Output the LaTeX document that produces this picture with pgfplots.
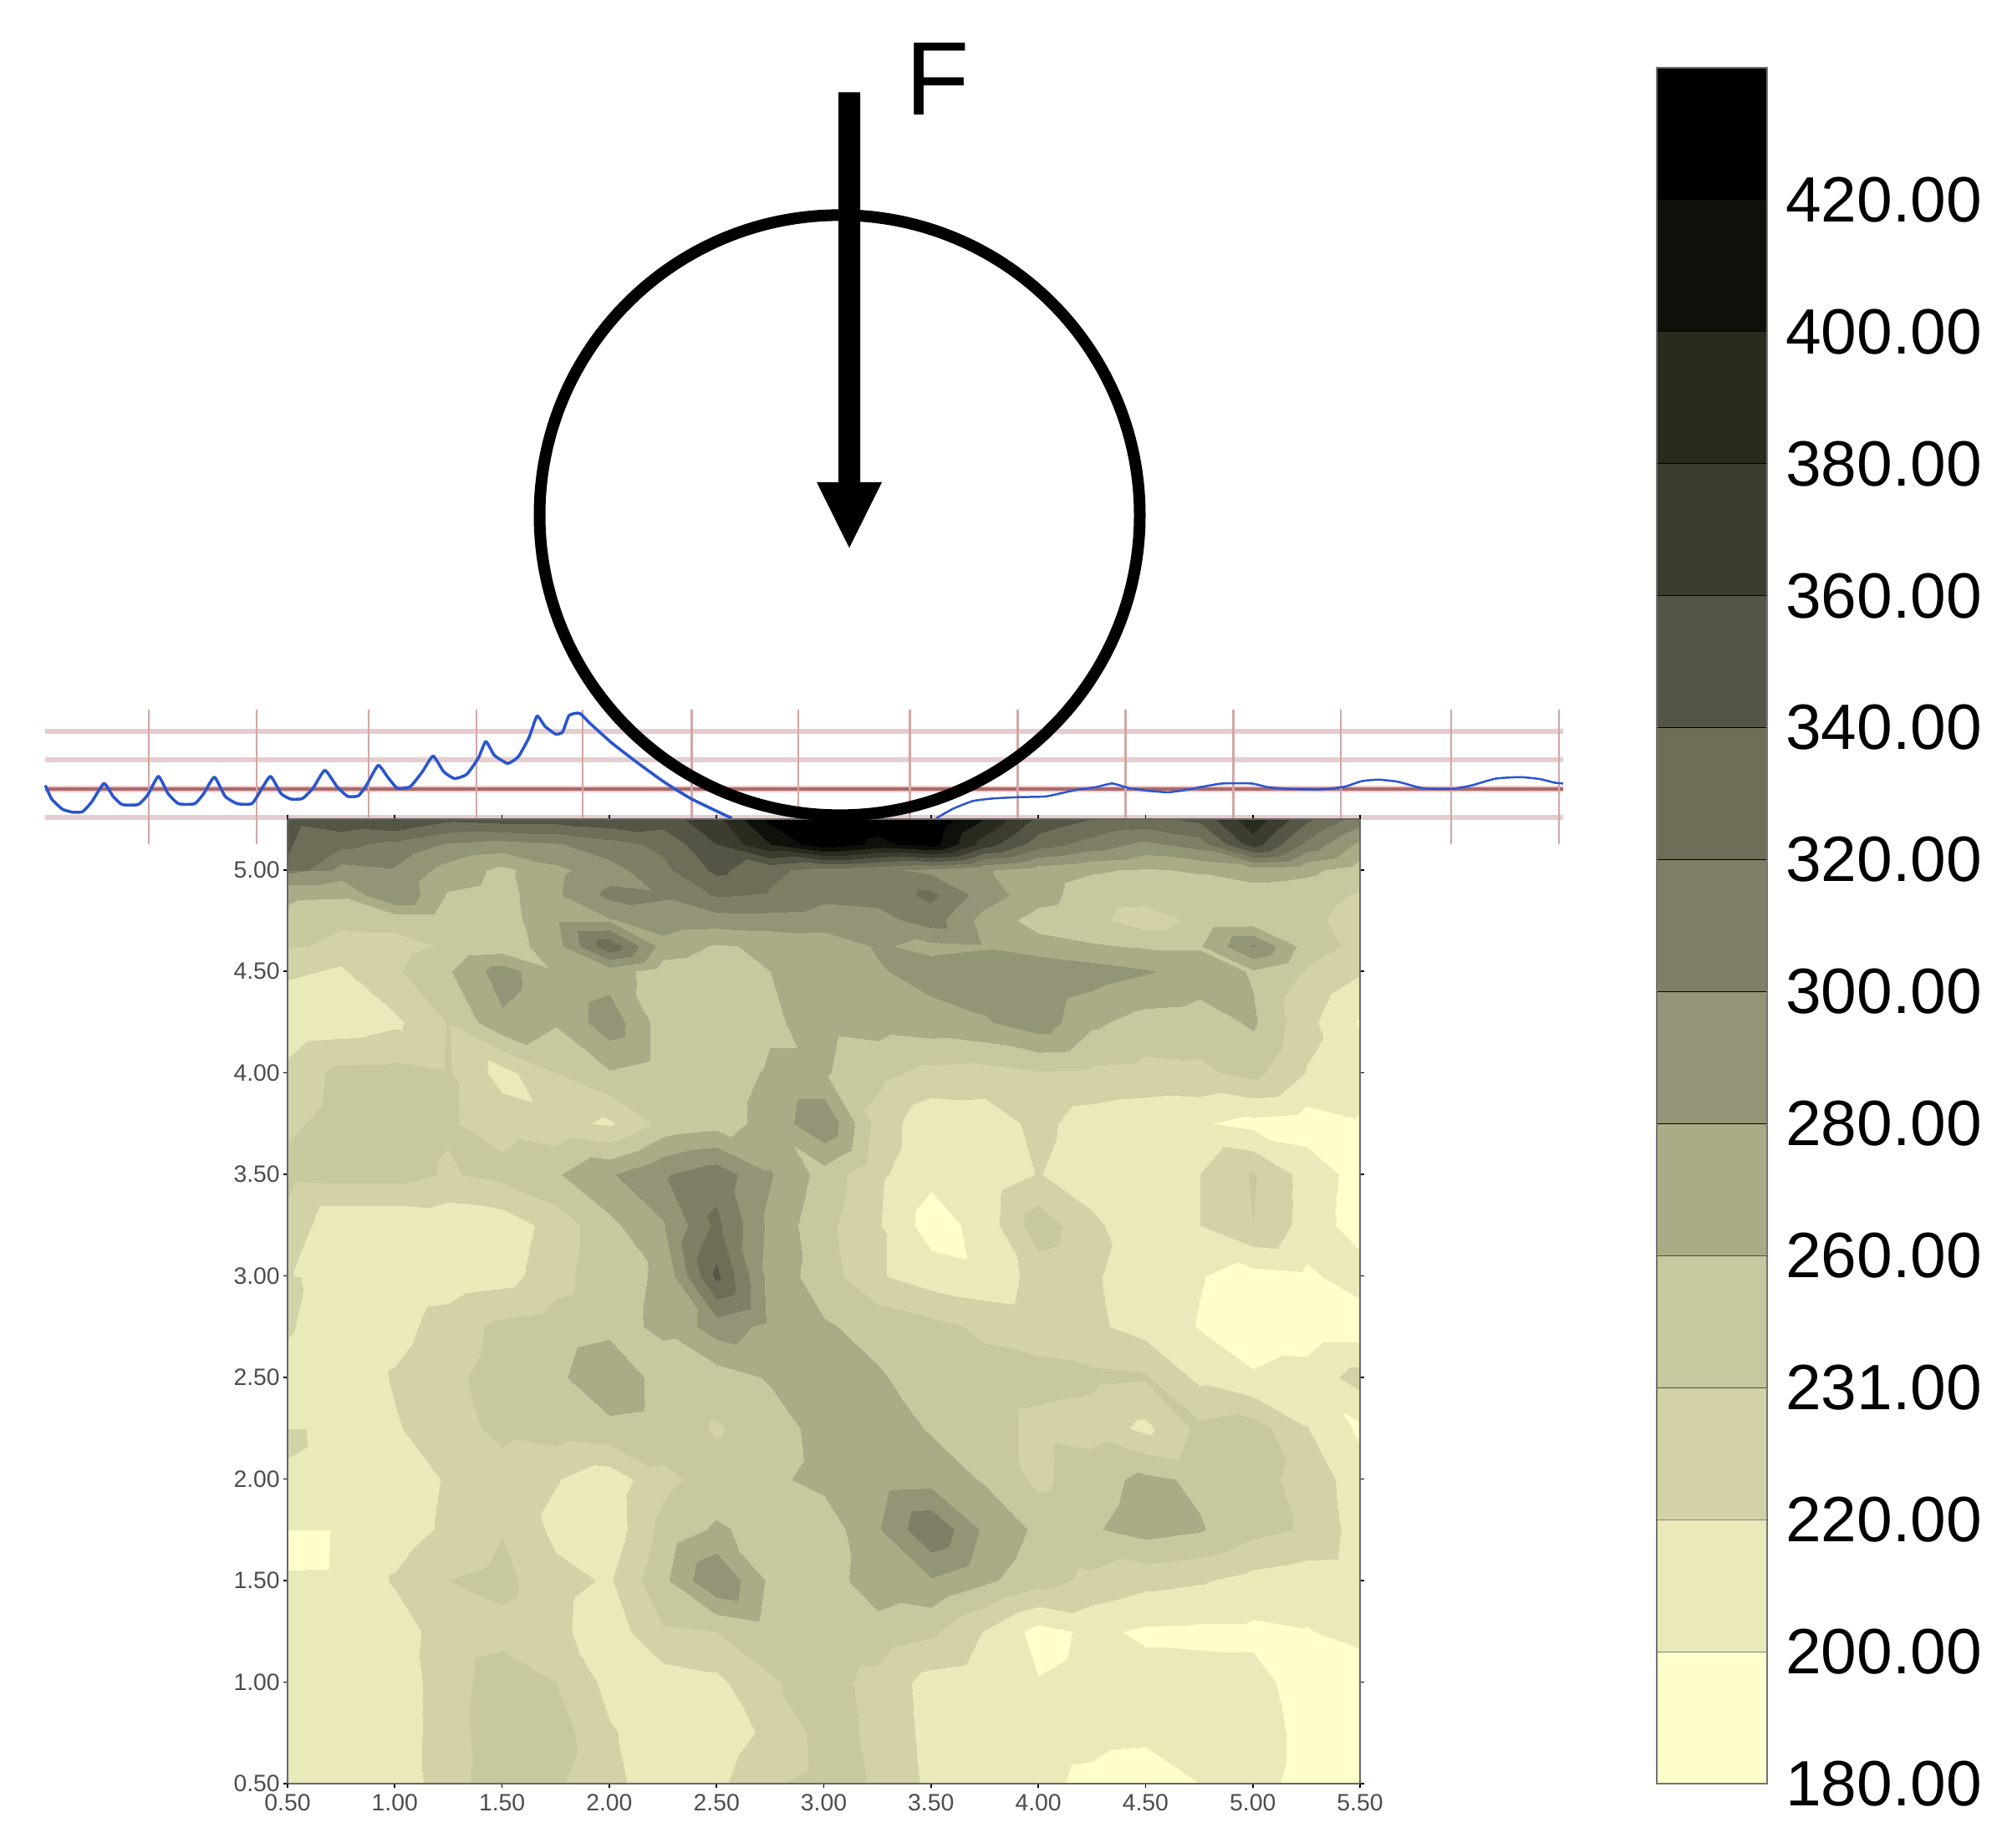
\documentclass[border=0pt]{standalone}
\usepackage{fontspec}
\setmainfont{Liberation Sans}
\usepackage{pgfplots}
\pgfplotsset{compat=1.18}
\definecolor{lineblue}{HTML}{2A55D0}
\definecolor{redlight}{HTML}{E6CDCD}
\definecolor{redvert}{HTML}{D2A6A6}
\definecolor{reddark}{HTML}{A86A6A}
\definecolor{redhalo}{HTML}{F3CFCF}
\pgfplotsset{pixelaxis/.style={at={(0pt,0pt)},anchor=south west,scale only axis,width=718.5pt,height=663.3pt,
  xmin=0,xmax=2395,ymin=0,ymax=2211,y dir=reverse,hide axis,clip=false}}
\begin{document}
\begin{tikzpicture}
\useasboundingbox (0pt,0pt) rectangle (718.5pt,663.3pt);
% profile behind the map
\begin{axis}[pixelaxis]
\addplot[redlight,line width=1.6pt] coordinates {(54,875)(1870,875)};
\addplot[redlight,line width=1.6pt] coordinates {(54,909)(1870,909)};
\addplot[redlight,line width=1.6pt] coordinates {(54,978)(1870,978)};
\addplot[redhalo,line width=2.6pt] coordinates {(54,944)(1870,944)};
\addplot[reddark,line width=1.0pt] coordinates {(54,944)(1870,944)};
\foreach \x in {178,307,441,570,697,827.5,955,1088.5,1217.5,1346.5,1475.4,1604,1736,1865}{
  \edef\tmp{\noexpand\addplot[redvert,line width=.8pt] coordinates {(\x,849)(\x,1010)};}\tmp
}
\addplot[lineblue,line width=1.05pt,line join=round,smooth,tension=.3] coordinates {
(54.2,939.7)(61.9,956)(74.7,968.2)(87.4,971.8)(98.9,971.1)(109.8,959.3)(124.4,937.4)(135.3,952.8)(146.1,962.6)(165.3,962.6)
(176.7,951.1)(189.5,928.8)(201,949.5)(213.7,961.6)(232.9,961.6)(243.7,949.5)(256.5,929.8)(269.3,952.8)(283.9,961.6)(301.2,961.6)
(310.7,947.9)(323.5,928.8)(336.2,949.5)(347.7,956)(361.8,955.4)(374.5,943)(388.6,921.6)(403.2,941.3)(416,952.8)(428.8,952.1)
(438.3,939.7)(452.4,915.7)(463.8,929.8)(475.3,943)(490.6,941.3)(505.3,923.3)(518.1,904.6)(530.8,923.3)(543.6,931.5)(558.3,926.5)
(572.3,906.9)(581.2,887.2)(591.4,903.6)(607.4,913.4)(620.2,905.2)(632.9,882.3)(642.5,856.7)(652,869.1)(664.8,878.3)(673.1,875.7)
(680.8,856)(693.5,853.4)(706.3,865.9)(731.8,888.8)(763.7,913.4)(795.6,936.4)(827.5,956)(875.4,979)};
\addplot[lineblue,line width=.75pt,line join=round,smooth,tension=.3] coordinates {
(1120,979)(1140.4,967.5)(1163.8,958.4)(1187.2,955.4)(1216.4,953.8)(1251.5,952.8)(1286.6,945.2)(1310,942)(1330.5,937.4)(1351,943)
(1374.4,946.2)(1397.7,947.9)(1418.2,945.2)(1438.7,941.3)(1462.1,937.4)(1497.2,937.4)(1517.7,942)(1544,943.9)(1579,944.6)(1608.3,941.3)
(1628.7,934.7)(1649.2,932.8)(1672.6,935.4)(1701.9,943)(1737,943.9)(1760.4,939.7)(1789.6,931.5)(1818.9,929.8)(1842.3,932.1)(1859.8,936.4)(1870,937.4)};
\end{axis}
% contour map
\begin{axis}[at={(103.2pt,23.1pt)},anchor=south west,scale only axis,width=384.9pt,height=346.2pt,
  view={0}{90},xmin=0.5,xmax=5.5,ymin=0.5,ymax=5.25,
  xtick={0.5,1,...,5.5},ytick={0.5,1,...,5},ztick=\empty,
  tick align=outside,major tick length=1.6pt,tick style={black,line width=.5pt},
  axis line style={draw=black!60,line width=.6pt},
  tick label style={font=\fontsize{8.5}{10}\selectfont,text=black!70,inner sep=0pt},
  xticklabel style={yshift=-2pt},yticklabel style={xshift=-1pt},
  /pgf/number format/.cd,fixed,fixed zerofill,precision=2,assume math mode=true,
  /pgfplots/.cd,
  colormap={cm}{rgb255=(255,255,204) rgb255=(233,233,185) rgb255=(210,210,166) rgb255=(200,200,159)
    rgb255=(171,171,135) rgb255=(148,148,119) rgb255=(127,127,101) rgb255=(110,110,88)
    rgb255=(85,85,70) rgb255=(60,60,47) rgb255=(42,42,30) rgb255=(16,16,11) rgb255=(0,0,0)},
  colormap access=piecewise constant,point meta min=180,point meta max=440]
\addplot3[surf,shader=interp,mesh/cols=21,mesh/ordering=x varies]
 table[row sep=\\,header=false,z index=0,
   x expr={0.5+0.25*mod(\coordindex,21)},
   y expr={min(0.5+0.25*floor(\coordindex/21),4.5+0.125*(floor(\coordindex/21)-16))}] {
205\\ 205\\ 205\\ 233\\ 250\\ 243\\ 225\\ 210\\ 215\\ 238\\ 246\\ 238\\ 215\\ 208\\ 203\\ 197\\ 192\\ 200\\ 205\\ 195\\ 190\\
206\\ 206\\ 207\\ 232\\ 252\\ 250\\ 222\\ 210\\ 207\\ 225\\ 247\\ 236\\ 213\\ 207\\ 205\\ 204\\ 203\\ 204\\ 208\\ 195\\ 190\\
206\\ 206\\ 207\\ 232\\ 250\\ 240\\ 214\\ 209\\ 215\\ 238\\ 247\\ 234\\ 212\\ 207\\ 201\\ 206\\ 207\\ 207\\ 206\\ 192\\ 188\\
205\\ 206\\ 210\\ 230\\ 234\\ 225\\ 208\\ 238\\ 240\\ 250\\ 252\\ 252\\ 244\\ 219\\ 193\\ 204\\ 197\\ 196\\ 196\\ 199\\ 206\\
205\\ 206\\ 222\\ 240\\ 246\\ 226\\ 218\\ 255\\ 300\\ 256\\ 250\\ 272\\ 278\\ 264\\ 248\\ 235\\ 226\\ 222\\ 213\\ 208\\ 207\\
180\\ 205\\ 209\\ 224\\ 239\\ 215\\ 207\\ 246\\ 263\\ 252\\ 248\\ 278\\ 318\\ 276\\ 256\\ 258\\ 268\\ 262\\ 246\\ 238\\ 210\\
201\\ 206\\ 208\\ 222\\ 232\\ 221\\ 208\\ 235\\ 248\\ 256\\ 266\\ 270\\ 272\\ 258\\ 235\\ 252\\ 265\\ 256\\ 246\\ 234\\ 208\\
228\\ 205\\ 218\\ 232\\ 245\\ 250\\ 255\\ 252\\ 238\\ 250\\ 268\\ 272\\ 258\\ 248\\ 235\\ 232\\ 215\\ 245\\ 250\\ 221\\ 196\\
205\\ 205\\ 222\\ 236\\ 247\\ 256\\ 275\\ 252\\ 250\\ 262\\ 272\\ 262\\ 252\\ 248\\ 246\\ 244\\ 242\\ 215\\ 202\\ 208\\ 228\\
222\\ 208\\ 212\\ 230\\ 245\\ 250\\ 255\\ 263\\ 290\\ 275\\ 262\\ 254\\ 246\\ 236\\ 232\\ 224\\ 212\\ 199\\ 190\\ 188\\ 188\\
225\\ 205\\ 205\\ 208\\ 212\\ 232\\ 255\\ 262\\ 345\\ 272\\ 250\\ 222\\ 210\\ 205\\ 228\\ 222\\ 212\\ 201\\ 192\\ 196\\ 210\\
222\\ 203\\ 202\\ 205\\ 208\\ 228\\ 255\\ 278\\ 325\\ 275\\ 246\\ 222\\ 190\\ 208\\ 252\\ 225\\ 204\\ 220\\ 240\\ 212\\ 190\\
246\\ 248\\ 248\\ 238\\ 246\\ 258\\ 278\\ 298\\ 312\\ 282\\ 252\\ 224\\ 205\\ 206\\ 221\\ 208\\ 207\\ 220\\ 242\\ 212\\ 192\\
246\\ 248\\ 247\\ 242\\ 232\\ 226\\ 217\\ 246\\ 252\\ 266\\ 298\\ 232\\ 205\\ 208\\ 226\\ 210\\ 205\\ 202\\ 194\\ 190\\ 198\\
226\\ 246\\ 247\\ 242\\ 212\\ 240\\ 258\\ 250\\ 252\\ 262\\ 262\\ 246\\ 234\\ 232\\ 238\\ 236\\ 234\\ 236\\ 246\\ 219\\ 207\\
205\\ 208\\ 216\\ 241\\ 276\\ 262\\ 292\\ 250\\ 245\\ 258\\ 265\\ 268\\ 272\\ 278\\ 292\\ 264\\ 252\\ 250\\ 263\\ 226\\ 198\\
205\\ 218\\ 237\\ 258\\ 290\\ 262\\ 270\\ 250\\ 245\\ 260\\ 270\\ 278\\ 288\\ 292\\ 298\\ 290\\ 282\\ 272\\ 258\\ 238\\ 222\\
232\\ 228\\ 232\\ 243\\ 248\\ 272\\ 335\\ 272\\ 258\\ 263\\ 268\\ 282\\ 275\\ 278\\ 268\\ 262\\ 258\\ 258\\ 302\\ 250\\ 235\\
248\\ 247\\ 247\\ 246\\ 250\\ 277\\ 278\\ 292\\ 290\\ 292\\ 290\\ 292\\ 310\\ 272\\ 252\\ 246\\ 229\\ 246\\ 248\\ 245\\ 232\\
263\\ 262\\ 300\\ 258\\ 252\\ 277\\ 305\\ 302\\ 322\\ 318\\ 305\\ 308\\ 325\\ 290\\ 268\\ 250\\ 248\\ 250\\ 250\\ 248\\ 238\\
305\\ 292\\ 298\\ 272\\ 255\\ 275\\ 292\\ 315\\ 345\\ 325\\ 312\\ 305\\ 295\\ 282\\ 270\\ 262\\ 258\\ 262\\ 270\\ 265\\ 250\\
338\\ 325\\ 315\\ 298\\ 292\\ 298\\ 312\\ 325\\ 360\\ 400\\ 435\\ 415\\ 430\\ 370\\ 330\\ 312\\ 295\\ 310\\ 370\\ 315\\ 275\\
345\\ 355\\ 362\\ 345\\ 350\\ 350\\ 355\\ 350\\ 375\\ 425\\ 438\\ 430\\ 438\\ 400\\ 355\\ 340\\ 335\\ 345\\ 395\\ 345\\ 310\\
};
\end{axis}
% colour key
\begin{axis}[at={(594.6pt,23.1pt)},anchor=south west,scale only axis,width=39.6pt,height=615.9pt,
  xmin=0,xmax=1,ymin=180,ymax=440,xtick=\empty,
  ytick={180,200,...,420},
  yticklabels={180.00,200.00,220.00,231.00,260.00,280.00,300.00,320.00,340.00,360.00,380.00,400.00,420.00},
  ticklabel pos=right,major tick length=0pt,
  y tick label style={font=\fontsize{23}{26}\selectfont,anchor=west,xshift=6.5pt,inner sep=0pt},
  axis line style={draw=black!55,line width=.5pt},axis on top]
\addplot[fill={rgb,255:red,255;green,255;blue,204},draw=black!50,line width=.3pt] coordinates {(0,180)(1,180)(1,200)(0,200)} --cycle;
\addplot[fill={rgb,255:red,233;green,233;blue,185},draw=black!50,line width=.3pt] coordinates {(0,200)(1,200)(1,220)(0,220)} --cycle;
\addplot[fill={rgb,255:red,210;green,210;blue,166},draw=black!50,line width=.3pt] coordinates {(0,220)(1,220)(1,240)(0,240)} --cycle;
\addplot[fill={rgb,255:red,200;green,200;blue,159},draw=black!70,line width=.3pt] coordinates {(0,240)(1,240)(1,260)(0,260)} --cycle;
\addplot[fill={rgb,255:red,171;green,171;blue,135},draw=black!70,line width=.3pt] coordinates {(0,260)(1,260)(1,280)(0,280)} --cycle;
\addplot[fill={rgb,255:red,148;green,148;blue,119},draw=black,line width=.3pt] coordinates {(0,280)(1,280)(1,300)(0,300)} --cycle;
\addplot[fill={rgb,255:red,127;green,127;blue,101},draw=black,line width=.3pt] coordinates {(0,300)(1,300)(1,320)(0,320)} --cycle;
\addplot[fill={rgb,255:red,110;green,110;blue,88},draw=black,line width=.3pt] coordinates {(0,320)(1,320)(1,340)(0,340)} --cycle;
\addplot[fill={rgb,255:red,85;green,85;blue,70},draw=black,line width=.3pt] coordinates {(0,340)(1,340)(1,360)(0,360)} --cycle;
\addplot[fill={rgb,255:red,60;green,60;blue,47},draw=black,line width=.3pt] coordinates {(0,360)(1,360)(1,380)(0,380)} --cycle;
\addplot[fill={rgb,255:red,42;green,42;blue,30},draw=black,line width=.3pt] coordinates {(0,380)(1,380)(1,400)(0,400)} --cycle;
\addplot[fill={rgb,255:red,16;green,16;blue,11},draw=black,line width=.3pt] coordinates {(0,400)(1,400)(1,420)(0,420)} --cycle;
\addplot[fill=black,draw=black,line width=.3pt] coordinates {(0,420)(1,420)(1,440)(0,440)} --cycle;
\end{axis}
% circle, arrow, F
\begin{axis}[pixelaxis]
\draw[black,line width=4.2pt] (axis cs:1004.5,616.4) circle[radius=107.7pt];
\addplot[fill=black,draw=none] coordinates {(1003,110.5)(1029,110.5)(1029,577)(1055,577)(1016,655.5)(977,577)(1003,577)} --cycle;
\node[anchor=base west,inner sep=0pt,font=\fontsize{37.5}{40}\selectfont] at (axis cs:1083,138) {F};
\end{axis}
\end{tikzpicture}
\end{document}
